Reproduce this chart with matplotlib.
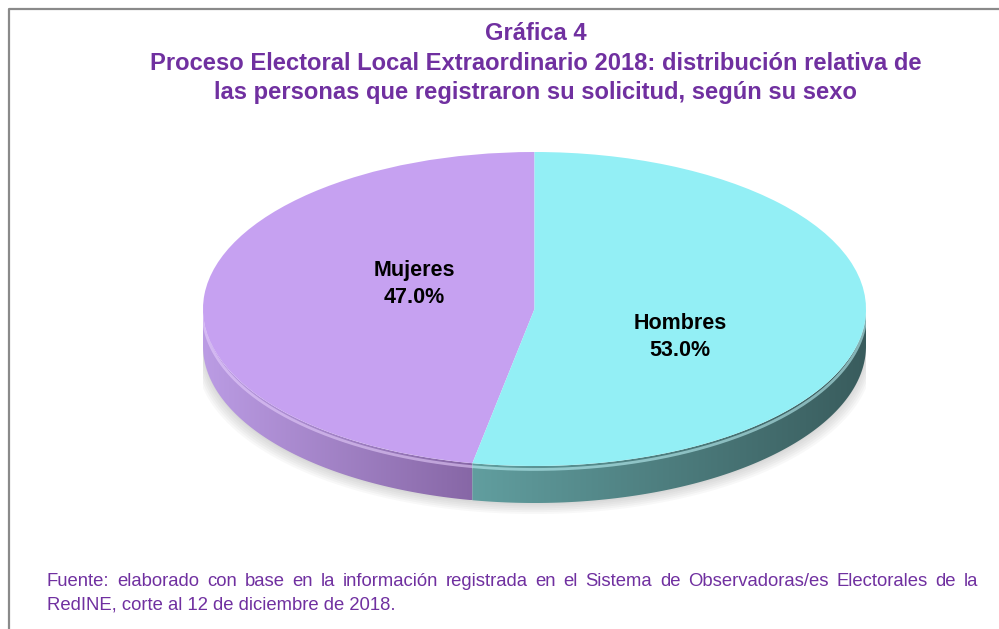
import numpy as np
import matplotlib as mpl
import matplotlib.pyplot as plt
from matplotlib.patches import Polygon
from matplotlib.colors import LinearSegmentedColormap

mpl.rc('font', family=['Liberation Sans', 'DejaVu Sans'])

# data
categorias = ['Mujeres', 'Hombres']
porcentajes = [47.0, 53.0]
colores_cara = ['#c6a1f1', '#93eff5']
colores_lado = [('#bb9ce4', '#8767a6'), ('#619e9f', '#395c5d')]
colores_bisel = ['#ead2ff', '#c4fbff']

titulo = ['Gráfica 4',
          'Proceso Electoral Local Extraordinario 2018: distribución relativa de',
          'las personas que registraron su solicitud, según su sexo']
fuente_1 = ('Fuente: elaborado con base en la información registrada en el Sistema '
            'de Observadoras/es Electorales de la')
fuente_2 = 'RedINE, corte al 12 de diciembre de 2018.'

morado = '#7030a0'
W, H = 999, 629

fig = plt.figure(figsize=(W / 100, H / 100), dpi=100)
fig.patch.set_facecolor('white')

# background axes in pixel units
bg = fig.add_axes([0, 0, 1, 1])
bg.set_xlim(0, W)
bg.set_ylim(H, 0)
bg.axis('off')
bg.plot([8.5, 8.5, W + 2], [H + 2, 8.5, 8.5], color='#8a8a8a', lw=1.6)

for i, linea in enumerate(titulo):
    bg.text(536, 34 + i * 29.5, linea, ha='center', va='center',
            fontsize=17.1, fontweight='bold', color=morado)

# pie axes: x -> 203..866 px, y top 152 px, radius 157 px vertically
left, right, top = 203, 866, 152
ry = 157
y_lo, y_hi = -1.35, 1.0
h_px = (y_hi - y_lo) * ry
ax = fig.add_axes([left / W, 1 - (top + h_px) / H, (right - left) / W, h_px / H])

wedges, _ = ax.pie(porcentajes, colors=colores_cara, startangle=90,
                   counterclock=True, radius=1, center=(0, 0),
                   wedgeprops=dict(linewidth=0))
for w in wedges:
    w.set_zorder(3)
ax.set_aspect('auto')
ax.set_xlim(-1, 1)
ax.set_ylim(y_lo, y_hi)
ax.axis('off')

depth = 37 / ry

# soft shadow under the pie
tt = np.linspace(180, 360, 200)
for k in range(6):
    off = depth + 0.01 + k * 0.012
    xs = np.cos(np.radians(tt)) * (1 + k * 0.004)
    ys = np.sin(np.radians(tt)) - off
    poly = Polygon(np.column_stack([np.r_[xs, xs[::-1]],
                                    np.r_[ys, np.sin(np.radians(tt[::-1])) - depth + 0.2]]),
                   closed=True, facecolor='#777777', edgecolor='none', alpha=0.05, zorder=0.5)
    ax.add_patch(poly)

# sides of each slice (front half only)
for w, (c1, c2), cb in zip(wedges, colores_lado, colores_bisel):
    a = max(w.theta1, 180)
    b = min(w.theta2, 360)
    if b <= a:
        continue
    t = np.radians(np.linspace(a, b, 200))
    xs, ys = np.cos(t), np.sin(t)
    pts = np.column_stack([np.r_[xs, xs[::-1]], np.r_[ys, ys[::-1] - depth]])
    poly = Polygon(pts, closed=True, facecolor='none', edgecolor='none', zorder=1)
    ax.add_patch(poly)
    cmap = LinearSegmentedColormap.from_list('lado', [c1, c2])
    grad = np.linspace(0, 1, 256).reshape(1, -1)
    im = ax.imshow(grad, cmap=cmap, aspect='auto', zorder=1,
                   extent=[xs.min(), xs.max(), ys.min() - depth, ys.max()],
                   origin='lower')
    im.set_clip_path(poly)
    ax.plot(xs, ys - 0.022, color=cb, lw=2.0, alpha=0.55, zorder=2,
            solid_capstyle='butt')

# labels
pos_etiquetas = [(-0.363, 0.16), (0.44, -0.18)]
for cat, pct, (x, y) in zip(categorias, porcentajes, pos_etiquetas):
    ax.text(x, y, f'{cat}\n{pct:.1f}%', ha='center', va='center',
            fontsize=15.5, fontweight='bold', color='black', linespacing=1.35, zorder=5)

# footnote, first line justified
fig.canvas.draw()
renderer = fig.canvas.get_renderer()
x0, x1, yf = 47, 978, 582
palabras = fuente_1.split(' ')
objs = [bg.text(0, yf, p, ha='left', va='center', fontsize=13.3, color=morado)
        for p in palabras]
anchos = [o.get_window_extent(renderer).width for o in objs]
hueco = (x1 - x0 - sum(anchos)) / (len(palabras) - 1)
x = x0
for o, wd in zip(objs, anchos):
    o.set_x(x)
    x += wd + hueco
bg.text(x0, yf + 23, fuente_2, ha='left', va='center', fontsize=13.3, color=morado)

fig.savefig('out.png', dpi=100)
